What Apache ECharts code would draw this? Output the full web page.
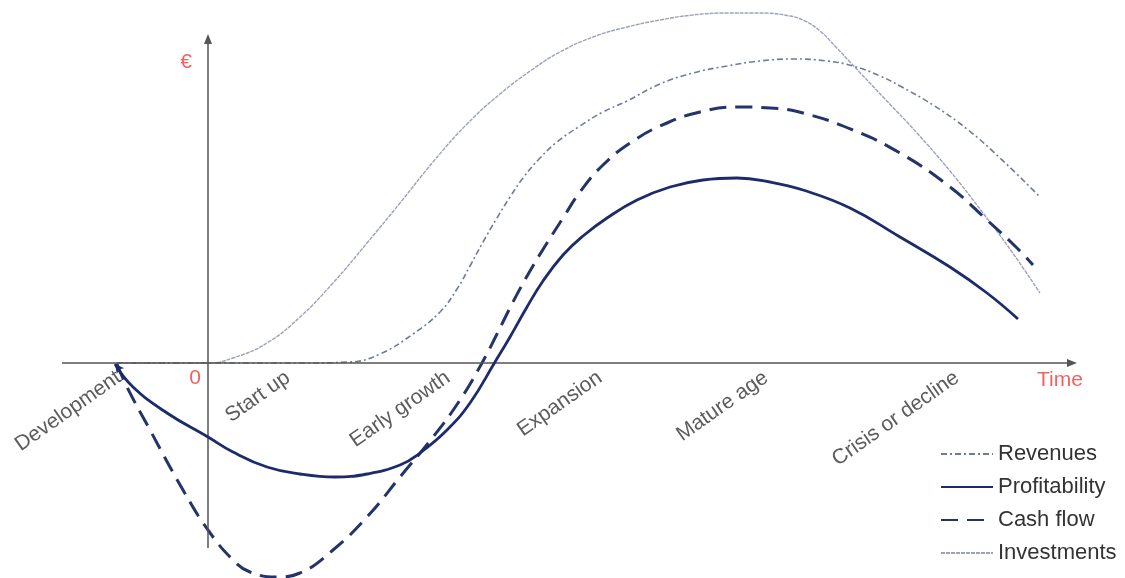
<!DOCTYPE html>
<html>
<head>
<meta charset="utf-8">
<script src="https://cdn.jsdelivr.net/npm/echarts@6/dist/echarts.min.js"></script>
<style>html,body{margin:0;padding:0;background:#fff}#c{width:1125px;height:578px}</style>
</head>
<body>
<div id="c"></div>
<script>
// Time (x) and value (y) samples, in chart units
const profitTime = [-9.3,-7.5,-4.1,0,2.5,5.9,9.2,12.7,15.9,19.2,21.2,23.9,26.2,28.7,30.2,31.9,33.5,35.5,37.5,39.9,42.9,46.2,49.5,52.9,56.2,59.5,64.2,69.2,74.2,77.9,81.0];
const profitValue = [-0.1,-2.4,-5.0,-7.4,-8.9,-10.4,-11.1,-11.4,-11.1,-10.2,-9.0,-6.7,-4.0,0.1,2.6,5.6,8.2,10.8,12.7,14.5,16.3,17.6,18.3,18.5,18.1,17.3,15.5,12.6,9.6,7.0,4.4];

const cashTime = [-9.1,-8.1,-5.8,-2.5,0,2.5,4.2,6.9,9.2,12.5,15.9,19.2,22.5,25.2,27.4,28.9,30.5,32.2,33.9,35.5,37.2,39.5,42.5,45.9,49.2,52.9,56.2,59.5,64.5,69.2,74.2,77.9,80.9,82.5];
const cashValue = [-0.1,-2.4,-6.7,-12.7,-16.7,-19.7,-20.9,-21.4,-21.0,-18.7,-15.4,-11.4,-7.4,-3.7,0,2.9,6.1,9.2,12.0,14.5,17.1,19.8,22.2,24.0,25.1,25.6,25.5,25.0,23.3,21.0,17.6,14.3,11.5,9.8];

const revenueTime = [-9.1,0,9.2,14.2,17.2,20.5,23.2,24.9,26.2,27.5,28.9,30.2,31.5,33.2,34.9,37.2,39.5,41.9,45.2,48.5,51.9,55.2,58.5,61.9,64.5,67.2,69.2,72.5,75.9,79.2,83.2];
const revenueValue = [0,0,0,0.1,0.9,2.9,5.1,7.4,9.7,12.1,14.5,16.6,18.5,20.5,22.1,23.7,25.1,26.2,27.9,29.0,29.7,30.2,30.4,30.2,29.7,28.7,27.7,25.8,23.4,20.5,16.6];

const investTime = [-9.1,0,2.5,5.9,9.2,12.5,15.9,19.2,22.5,25.9,29.2,32.5,35.2,38.5,41.9,45.2,48.5,51.9,55.2,58.2,59.7,61.2,62.7,64.2,67.6,70.9,74.2,77.5,80.4,83.2];
const investValue = [0,0,0.5,2.0,4.6,8.0,12.0,16.0,20.1,23.9,26.9,29.4,31.1,32.6,33.6,34.3,34.8,35.0,35.0,34.7,34.2,33.2,31.7,30.1,26.5,23.0,19.2,15.0,11.1,7.0];

const phaseNames = ['Development','Start up','Early growth','Expansion','Mature age','Crisis or decline'];
const phaseTimes = [-9.8,7.1,23.1,38.3,54.9,74.0];

const seriesNames = ['Revenues','Profitability','Cash flow','Investments'];

function pairs(xs, ys){ return xs.map((x,i)=>[x, ys[i]]); }

const chart = echarts.init(document.getElementById('c'), null, {renderer:'canvas'});
const FONT = 'Liberation Sans';
const profitData = pairs(profitTime, profitValue).map((p,i)=> i===0
  ? {value:p, symbol:'arrow', symbolSize:[7,9], symbolRotate:38}
  : {value:p, symbol:'none'});

const option = {
  backgroundColor:'#fff',
  animation:false,
  grid:{left:0,right:0,top:0,bottom:0},
  xAxis:{type:'value',min:-20.8,max:91.7,show:false},
  yAxis:{type:'value',min:-21.5,max:36.3,show:false},
  legend:{
    orient:'vertical', left:935, top:438, itemWidth:52, itemHeight:14, itemGap:11,
    data:seriesNames,
    itemStyle:{opacity:0, borderWidth:0},
    textStyle:{fontFamily:FONT,fontSize:22,color:'#333',lineHeight:22}
  },
  series:[
    {
      name:'axes', type:'line', data:[], silent:true,
      markLine:{
        silent:true, animation:false,
        symbol:['none','triangle'], symbolSize:[8,10],
        label:{show:false},
        lineStyle:{color:'#555',width:1.5,type:'solid'},
        emphasis:{disabled:true},
        data:[
          [{coord:[-14.6,0]},{coord:[86.4,0]}],
          [{coord:[0,-18.5]},{coord:[0,32.4]}]
        ]
      }
    },
    {
      name:'Revenues', type:'line', data:pairs(revenueTime,revenueValue), smooth:0.45, symbol:'none', clip:false,
      lineStyle:{color:'#6f7aa3',width:1.6,type:[6,3,2,3]}, itemStyle:{color:'#3b4a80'}, z:3
    },
    {
      name:'Profitability', type:'line', data:profitData, smooth:0.45, symbol:'none', showSymbol:true, clip:false,
      lineStyle:{color:'#1c2b6b',width:2.8}, itemStyle:{color:'#1c2b6b'}, z:5
    },
    {
      name:'Cash flow', type:'line', data:pairs(cashTime,cashValue), smooth:0.45, symbol:'none', clip:false,
      lineStyle:{color:'#23346a',width:3,type:[17,9]}, itemStyle:{color:'#23346a'}, z:4
    },
    {
      name:'Investments', type:'line', data:pairs(investTime,investValue), smooth:0.45, symbol:'none', clip:false,
      lineStyle:{color:'#9ca2bc',width:1.4,type:[4,1]}, itemStyle:{color:'#9ca2bc'}, z:2
    },
    {
      name:'phases', type:'scatter', symbolSize:0, silent:true, z:6,
      data:phaseTimes.map((t,i)=>({value:[t,0], name:phaseNames[i]})),
      label:{
        show:true, position:'inside', formatter:p=>p.name,
        rotate:35, align:'right', verticalAlign:'top', offset:[0,5],
        fontFamily:FONT, fontSize:21, color:'#333'
      }
    },
    {
      name:'annotations', type:'scatter', symbolSize:0, silent:true, z:6,
      data:[
        {value:[-2.2,30.1], name:'€'},
        {value:[-1.3,-1.5], name:'0'},
        {value:[85.2,-1.7], name:'Time'}
      ],
      label:{show:true, position:'inside', formatter:p=>p.name,
        fontFamily:FONT, fontSize:21, color:'#ee3a3a'}
    }
  ]
};
chart.setOption(option);
</script>
</body>
</html>
